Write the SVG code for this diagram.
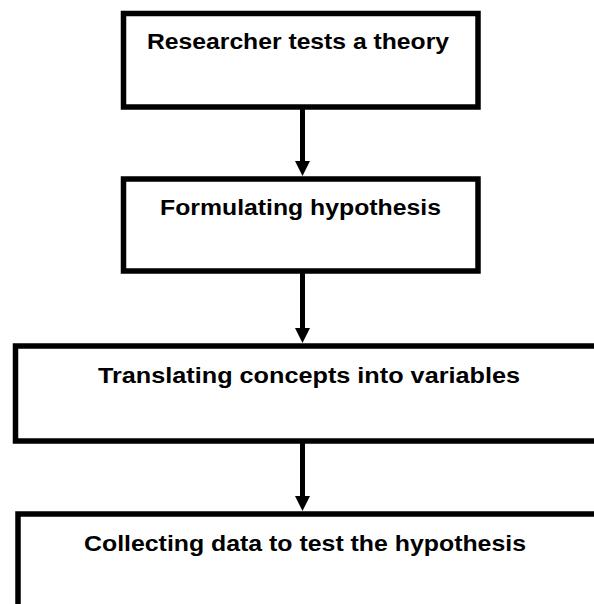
<svg xmlns="http://www.w3.org/2000/svg" width="594" height="604" viewBox="0 0 594 604">
  <defs>
    <marker id="head" markerUnits="userSpaceOnUse" markerWidth="16" markerHeight="16" refX="1" refY="7.5" orient="auto">
      <path d="M0,0 L15,7.5 L0,15 Z" fill="#000"/>
    </marker>
  </defs>
  <style>
    .box { fill: #fff; stroke: #000; stroke-width: 5.5; }
    .label { font-family: "Liberation Sans", Arial, sans-serif; font-weight: bold; font-size: 22.5px; fill: #000; text-anchor: middle; }
    .link { stroke: #000; stroke-width: 5; fill: none; marker-end: url(#head); }
  </style>
  <rect width="594" height="604" fill="#fff"/>

  <g id="connectors">
    <line class="link" x1="302.5" y1="108" x2="302.5" y2="162"/>
    <line class="link" x1="302.5" y1="273" x2="302.5" y2="329"/>
    <line class="link" x1="302.5" y1="443" x2="302.5" y2="497"/>
  </g>

  <g id="theory">
    <rect class="box" x="123.5" y="13.5" width="354.5" height="93.5"/>
    <text class="label" x="298" y="49" textLength="302" lengthAdjust="spacingAndGlyphs">Researcher tests a theory</text>
  </g>

  <g id="hypothesis">
    <rect class="box" x="123.5" y="179" width="354.5" height="92"/>
    <text class="label" x="300.5" y="215" textLength="281" lengthAdjust="spacingAndGlyphs">Formulating hypothesis</text>
  </g>

  <g id="variables">
    <rect class="box" x="15.5" y="346" width="600" height="95"/>
    <text class="label" x="309" y="383" textLength="422" lengthAdjust="spacingAndGlyphs">Translating concepts into variables</text>
  </g>

  <g id="data">
    <rect class="box" x="18" y="514" width="600" height="120"/>
    <text class="label" x="305" y="551" textLength="442" lengthAdjust="spacingAndGlyphs">Collecting data to test the hypothesis</text>
  </g>
</svg>
